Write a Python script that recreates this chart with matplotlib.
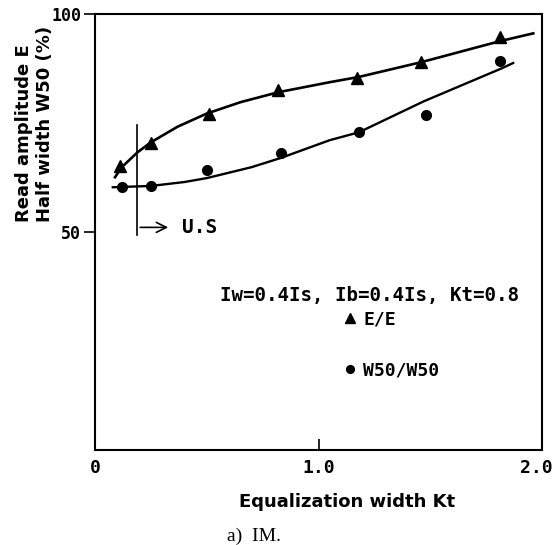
import matplotlib
matplotlib.use("Agg")
import matplotlib.pyplot as plt
from matplotlib.transforms import ScaledTranslation

ee_x = [0.11, 0.25, 0.51, 0.82, 1.17, 1.46, 1.81]
ee_y = [65.1, 70.4, 77.1, 82.6, 85.3, 89.0, 94.7]
w50_x = [0.12, 0.25, 0.50, 0.83, 1.18, 1.48, 1.81]
w50_y = [60.3, 60.6, 64.2, 68.1, 72.9, 76.8, 89.2]

# hand-drawn fitted curves (traced)
ee_curve_x = [0.09, 0.12, 0.19, 0.25, 0.37, 0.50, 0.65, 0.82, 1.05, 1.18, 1.46, 1.81, 1.96]
ee_curve_y = [62.6, 64.9, 68.3, 70.6, 74.2, 77.2, 79.8, 82.1, 84.4, 85.6, 89.0, 93.8, 95.6]
w50_curve_x = [0.08, 0.25, 0.40, 0.50, 0.70, 0.83, 1.05, 1.18, 1.47, 1.82, 1.87]
w50_curve_y = [60.3, 60.6, 61.5, 62.4, 64.9, 67.0, 71.1, 72.9, 80.0, 87.6, 88.8]

us_x = 0.19
us_y = [49.3, 74.5]

xticks = [0, 1.0, 2.0]
xtick_labels = ["0", "1.0", "2.0"]
yticks = [50, 100]
ytick_labels = ["50", "100"]

mono = "DejaVu Sans Mono"

fig = plt.figure(figsize=(5.55, 5.45), dpi=100)
ax = fig.add_axes([0.171, 0.174, 0.806, 0.800])

ax.plot(ee_curve_x, ee_curve_y, color="black", lw=1.9)
ax.plot(w50_curve_x, w50_curve_y, color="black", lw=1.7)
ee_pts, = ax.plot(ee_x, ee_y, "^", color="black", ms=9, label="E/E")
w50_pts, = ax.plot(w50_x, w50_y, "o", color="black", ms=7, label="W50/W50")

# U.S marker line and arrow
ax.plot([us_x, us_x], us_y, color="black", lw=1.2)
ax.annotate("", xy=(0.34, 51.1), xytext=(us_x, 51.1),
            arrowprops=dict(arrowstyle="->", color="black", lw=1.2, mutation_scale=18))
ax.text(0.39, 51.1, "U.S", family=mono, fontsize=14, fontweight="bold",
        va="center", ha="left")

ax.text(0.56, 35.5, "Iw=0.4Is, Ib=0.4Is, Kt=0.8", family=mono, fontweight="bold",
        fontsize=13.8, va="center", ha="left")
ax.legend(handles=[ee_pts, w50_pts], loc="upper left", bbox_to_anchor=(0.522, 0.354),
          frameon=False, markerscale=0.8, handlelength=0.8, handletextpad=0.32,
          labelspacing=1.82, borderpad=0.3,
          prop={"family": mono, "weight": "bold", "size": 13})

ax.set_xlim(0, 2.0)
ax.set_ylim(0, 100)
ax.set_xticks(xticks)
ax.set_xticklabels(xtick_labels, family=mono, fontweight="bold", fontsize=13)
ax.set_yticks(yticks)
ax.set_yticklabels(ytick_labels, family=mono, fontweight="bold", fontsize=12)
ax.tick_params(axis="x", direction="in", length=8, width=1.2, pad=6)
ax.tick_params(axis="y", direction="out", length=8, width=1.2, pad=2)
for s in ax.spines.values():
    s.set_linewidth(1.5)

# keep the "2.0" label inside the canvas
last = ax.get_xticklabels()[-1]
last.set_horizontalalignment("right")
last.set_transform(last.get_transform() + ScaledTranslation(10 / 100, 0, fig.dpi_scale_trans))

ax.text(-0.135, 0.523, "Read amplitude E\nHalf width W50 (%)", transform=ax.transAxes,
        rotation=90, ha="center", va="bottom", multialignment="left",
        fontsize=13, fontweight="bold", linespacing=1.25)
fig.text(0.625, 0.079, "Equalization width Kt", ha="center", va="center",
         fontsize=13, fontweight="bold")
fig.text(0.409, 0.015, "a)  IM.", ha="left", va="center",
         family="Liberation Serif", fontsize=14)

fig.savefig("out.png", dpi=100)
